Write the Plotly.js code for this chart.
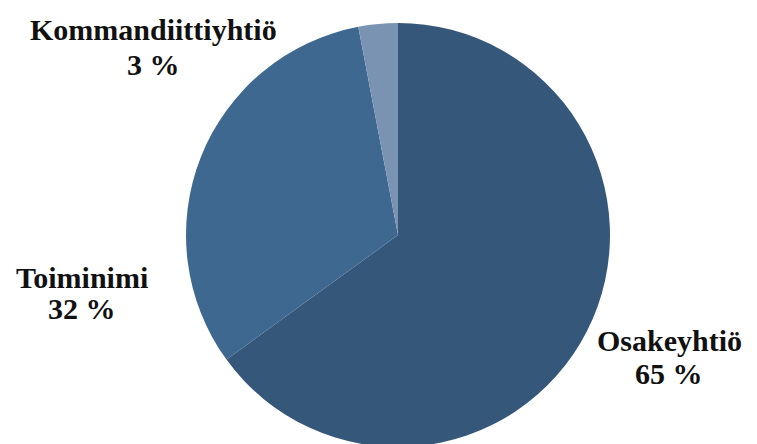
<!DOCTYPE html>
<html><head><meta charset="utf-8">
<script src="https://cdn.plot.ly/plotly-3.0.1.min.js"></script>
<style>html,body{margin:0;padding:0;overflow:hidden;background:#fff;width:757px;height:444px}</style>
</head><body>
<div id="chart" style="width:757px;height:470px"></div>
<script>
const categories = ["Osakeyhtiö", "Toiminimi", "Kommandiittiyhtiö"];
const values = [65, 32, 3];
const colors = ["#355779", "#3f6891", "#7a93b3"];
// label positions in pixels (layout only): [centre x, name line y, percent line y]
const labelPx = [[669, 340, 373], [82, 277, 308], [153, 30, 64]];

const W = 757, H = 470, mL = 186, mR = 147, mT = 23, mB = 23;
const pw = W - mL - mR, ph = H - mT - mB;
const total = values.reduce((a, b) => a + b, 0);
const px2x = p => (p - mL) / pw;
const px2y = p => 1 - (p - mT) / ph;
const font = {family: "Liberation Serif", size: 30, color: "#111"};

const annotations = [];
categories.forEach((c, i) => {
  annotations.push({
    xref: "paper", yref: "paper", x: px2x(labelPx[i][0]), y: px2y(labelPx[i][1]),
    xanchor: "center", yanchor: "middle", showarrow: false,
    text: "<b>" + c + "</b>", font: font
  });
  annotations.push({
    xref: "paper", yref: "paper", x: px2x(labelPx[i][0]), y: px2y(labelPx[i][2]),
    xanchor: "center", yanchor: "middle", showarrow: false,
    text: "<b>" + Math.round(values[i] / total * 100) + " %</b>", font: font
  });
});

Plotly.newPlot("chart", [{
  type: "pie", labels: categories, values: values,
  marker: {colors: colors, line: {color: "rgba(0,0,0,0)", width: 0}},
  sort: false, direction: "clockwise", rotation: 0,
  textinfo: "none", hoverinfo: "label+percent"
}], {
  width: W, height: H,
  margin: {l: mL, r: mR, t: mT, b: mB},
  showlegend: false,
  paper_bgcolor: "#fff",
  annotations: annotations
}, {displayModeBar: false, staticPlot: true});
</script>
</body></html>
